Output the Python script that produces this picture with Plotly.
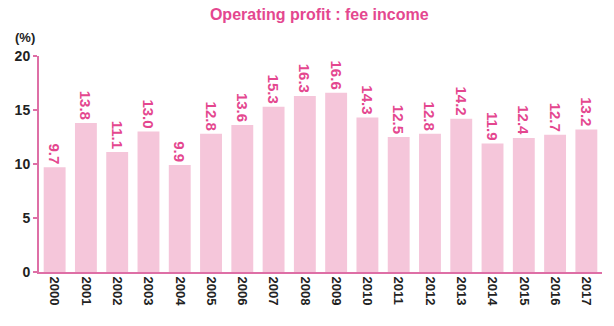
import plotly.graph_objects as go

years = [str(y) for y in range(2000, 2018)]
ratio = [9.7, 13.8, 11.1, 13.0, 9.9, 12.8, 13.6, 15.3, 16.3, 16.6,
         14.3, 12.5, 12.8, 14.2, 11.9, 12.4, 12.7, 13.2]
y_ticks = [0, 5, 10, 15, 20]

PINK = "#e4478f"
BAR = "#f5c6da"
AXIS = "#de6fa6"
FONT = "Liberation Sans Narrow, Arial Narrow, Liberation Sans, Arial, sans-serif"

fig = go.Figure(go.Bar(
    x=years, y=ratio,
    marker=dict(color=BAR, line=dict(width=0)),
    text=[f"{v:.1f}" for v in ratio],
    textposition="outside",
    textangle=90,
    constraintext="none",
    cliponaxis=False,
    textfont=dict(family=FONT, size=15, color=PINK, weight="bold"),
))

fig.update_layout(
    width=614, height=326,
    margin=dict(l=39, r=12, t=56, b=54),
    plot_bgcolor="white", paper_bgcolor="white",
    bargap=0.3,
    showlegend=False,
    title=dict(text="<b>Operating profit : fee income</b>", x=0.52, xanchor="center",
               y=0.955, yanchor="middle",
               font=dict(family=FONT, size=16, color=PINK)),
    annotations=[dict(text="<b>(%)</b>", x=-0.047, y=1.085, xref="paper", yref="paper",
                      showarrow=False, xanchor="left", yanchor="middle",
                      font=dict(family=FONT, size=13, color="#222"))],
    font=dict(family=FONT),
)

fig.update_xaxes(
    type="category", tickangle=90,
    showline=True, linecolor=AXIS, linewidth=2,
    ticks="", showgrid=False,
    tickfont=dict(family=FONT, size=13, color="#222", weight="bold"),
)
fig.update_yaxes(
    range=[0, 20], tickvals=y_ticks,
    showline=True, linecolor=AXIS, linewidth=2,
    ticks="outside", ticklen=4, tickcolor=AXIS, tickwidth=1.5,
    showgrid=False, zeroline=False,
    tickfont=dict(family=FONT, size=14, color="#222", weight="bold"),
)

fig.write_html("out.html")
